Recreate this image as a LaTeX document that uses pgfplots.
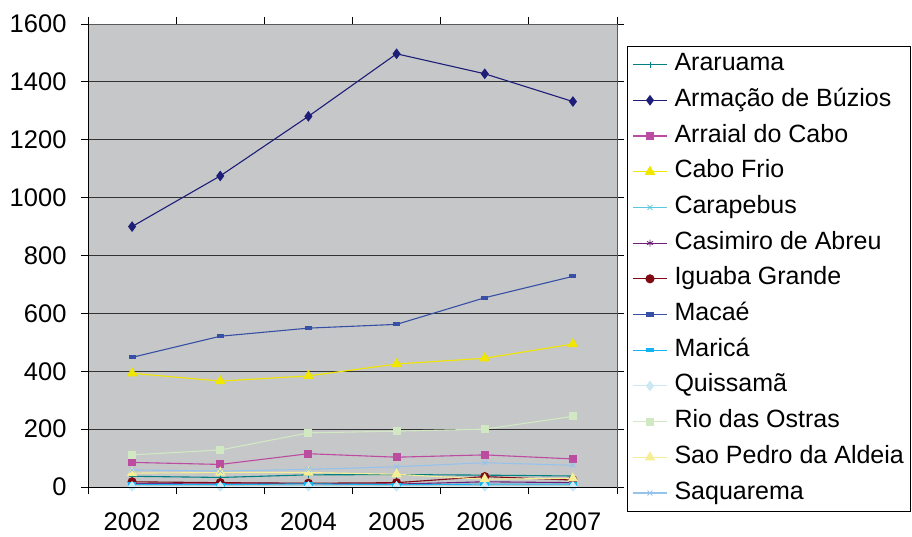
\documentclass[border=0pt]{standalone}
\usepackage{pgfplots}
\pgfplotsset{compat=1.18}
\usepackage{pgfplotstable}
\usepackage{fontspec}
\setmainfont{Liberation Sans}
\definecolor{plotbg}{RGB}{198,199,201}
\definecolor{cAraruama}{RGB}{0,128,128}
\definecolor{cBuzios}{RGB}{30,30,120}
\definecolor{cArraial}{RGB}{188,76,160}
\definecolor{cCabo}{RGB}{240,230,0}
\definecolor{cCarapebus}{RGB}{90,200,220}
\definecolor{cCasimiro}{RGB}{110,30,120}
\definecolor{cIguaba}{RGB}{128,10,20}
\definecolor{cMacae}{RGB}{55,80,165}
\definecolor{cMarica}{RGB}{20,180,240}
\definecolor{cQuissama}{RGB}{205,232,245}
\definecolor{cRio}{RGB}{210,232,195}
\definecolor{cSaoPedro}{RGB}{245,238,150}
\definecolor{cSaquarema}{RGB}{150,195,235}
\pgfplotstableread{
x Araruama Buzios Arraial Cabo Carapebus Casimiro Iguaba Macae Marica Quissama Rio SaoPedro Saquarema
0 37 900  85  393 1 12 18 448 9  2 111 48 59
1 33 1075 78  366 1 14 15 521 8  2 128 50 55
2 42 1281 115 384 2 12 13 549 11 2 187 50 61
3 43 1497 103 425 1 10 15 562 8  2 193 44 70
4 41 1428 111 445 2 18 36 654 10 2 200 27 84
5 38 1332 97  494 2 15 24 728 10 2 244 30 75
}\datatable
\begin{document}
\begin{tikzpicture}
\path[use as bounding box] (-88pt,-49pt) rectangle (824pt,487pt);
\begin{axis}[
  scale only axis,
  width=529pt, height=463pt,
  at={(0pt,0pt)}, anchor=south west,
  xmin=-0.5, xmax=5.5, ymin=0, ymax=1600,
  axis background/.style={fill=plotbg},
  axis line style={draw=gray!70!black, line width=0.8pt},
  xtick={0,1,2,3,4,5},
  xticklabels={2002,2003,2004,2005,2006,2007},
  major x tick style={draw=none},
  minor xtick={-0.5,0.5,1.5,2.5,3.5,4.5,5.5},
  minor tick length=7pt,
  minor x tick style={draw=black, line width=0.8pt},
  ytick={0,200,...,1600},
  major tick length=7pt,
  y tick style={draw=black, line width=0.8pt},
  tick align=outside,
  ymajorgrids,
  grid style={draw=black!80, line width=0.9pt},
  xticklabel style={font=\fontsize{25.5}{29}\selectfont, yshift=-15pt},
  yticklabel style={font=\fontsize{25.5}{29}\selectfont, xshift=-11pt},
  /pgf/number format/assume math mode=true,
  y tick label style={/pgf/number format/1000 sep={}},
  every axis plot/.append style={line width=1.1pt},
  legend cell align=left,
  legend style={at={(rel axis cs:1.019,0.952)}, anchor=north west,
    draw=black, line width=0.8pt, fill=white,
    font=\fontsize{25}{29}\selectfont,
    inner xsep=5pt, inner ysep=3pt,
    row sep=5.7pt,
    /tikz/every odd column/.append style={column sep=5pt},
    nodes={text height=17pt, text depth=5pt, inner ysep=4pt}},
  legend image code/.code={\draw[mark repeat=2,mark phase=2] plot coordinates {(0pt,0pt) (17pt,0pt) (34pt,0pt)};},
]
\addplot[color=cAraruama, draw=cAraruama, mark=+, mark size=3pt, mark options={line width=0.8pt}] table[x=x,y=Araruama]{\datatable};
\addlegendentry{Araruama}
\addplot[color=cBuzios, draw=cBuzios, mark=diamond*, mark size=4.5pt] table[x=x,y=Buzios]{\datatable};
\addlegendentry{Armação de Búzios}
\addplot[color=cArraial, draw=cArraial, mark=square*, mark size=3.5pt] table[x=x,y=Arraial]{\datatable};
\addlegendentry{Arraial do Cabo}
\addplot[color=cCabo, draw=cCabo, mark=triangle*, mark size=5pt] table[x=x,y=Cabo]{\datatable};
\addlegendentry{Cabo Frio}
\addplot[color=cCarapebus, draw=cCarapebus, mark=x, mark size=3.5pt, mark options={line width=0.8pt}] table[x=x,y=Carapebus]{\datatable};
\addlegendentry{Carapebus}
\addplot[color=cCasimiro, draw=cCasimiro, mark=asterisk, mark size=3.5pt, mark options={line width=0.8pt}] table[x=x,y=Casimiro]{\datatable};
\addlegendentry{Casimiro de Abreu}
\addplot[color=cIguaba, draw=cIguaba, mark=*, mark size=4pt] table[x=x,y=Iguaba]{\datatable};
\addlegendentry{Iguaba Grande}
\addplot[color=cMacae, draw=cMacae, mark=square*, mark size=1.5pt, mark options={xscale=2}] table[x=x,y=Macae]{\datatable};
\addlegendentry{Macaé}
\addplot[color=cMarica, draw=cMarica, mark=square*, mark size=1.5pt, mark options={xscale=2.5}] table[x=x,y=Marica]{\datatable};
\addlegendentry{Maricá}
\addplot[color=cQuissama, draw=cQuissama, mark=diamond*, mark size=4.5pt] table[x=x,y=Quissama]{\datatable};
\addlegendentry{Quissamã}
\addplot[color=cRio, draw=cRio, mark=square*, mark size=3.5pt] table[x=x,y=Rio]{\datatable};
\addlegendentry{Rio das Ostras}
\addplot[color=cSaoPedro, draw=cSaoPedro, mark=triangle*, mark size=5pt] table[x=x,y=SaoPedro]{\datatable};
\addlegendentry{Sao Pedro da Aldeia}
\addplot[color=cSaquarema, draw=cSaquarema, mark=x, mark size=3.5pt, mark options={line width=0.8pt}] table[x=x,y=Saquarema]{\datatable};
\addlegendentry{Saquarema}
\end{axis}
\draw[black, line width=0.9pt] (0pt,0pt) -- (0pt,463pt);
\draw[black, line width=0.9pt] (0pt,0pt) -- (529pt,0pt);
\end{tikzpicture}
\end{document}
